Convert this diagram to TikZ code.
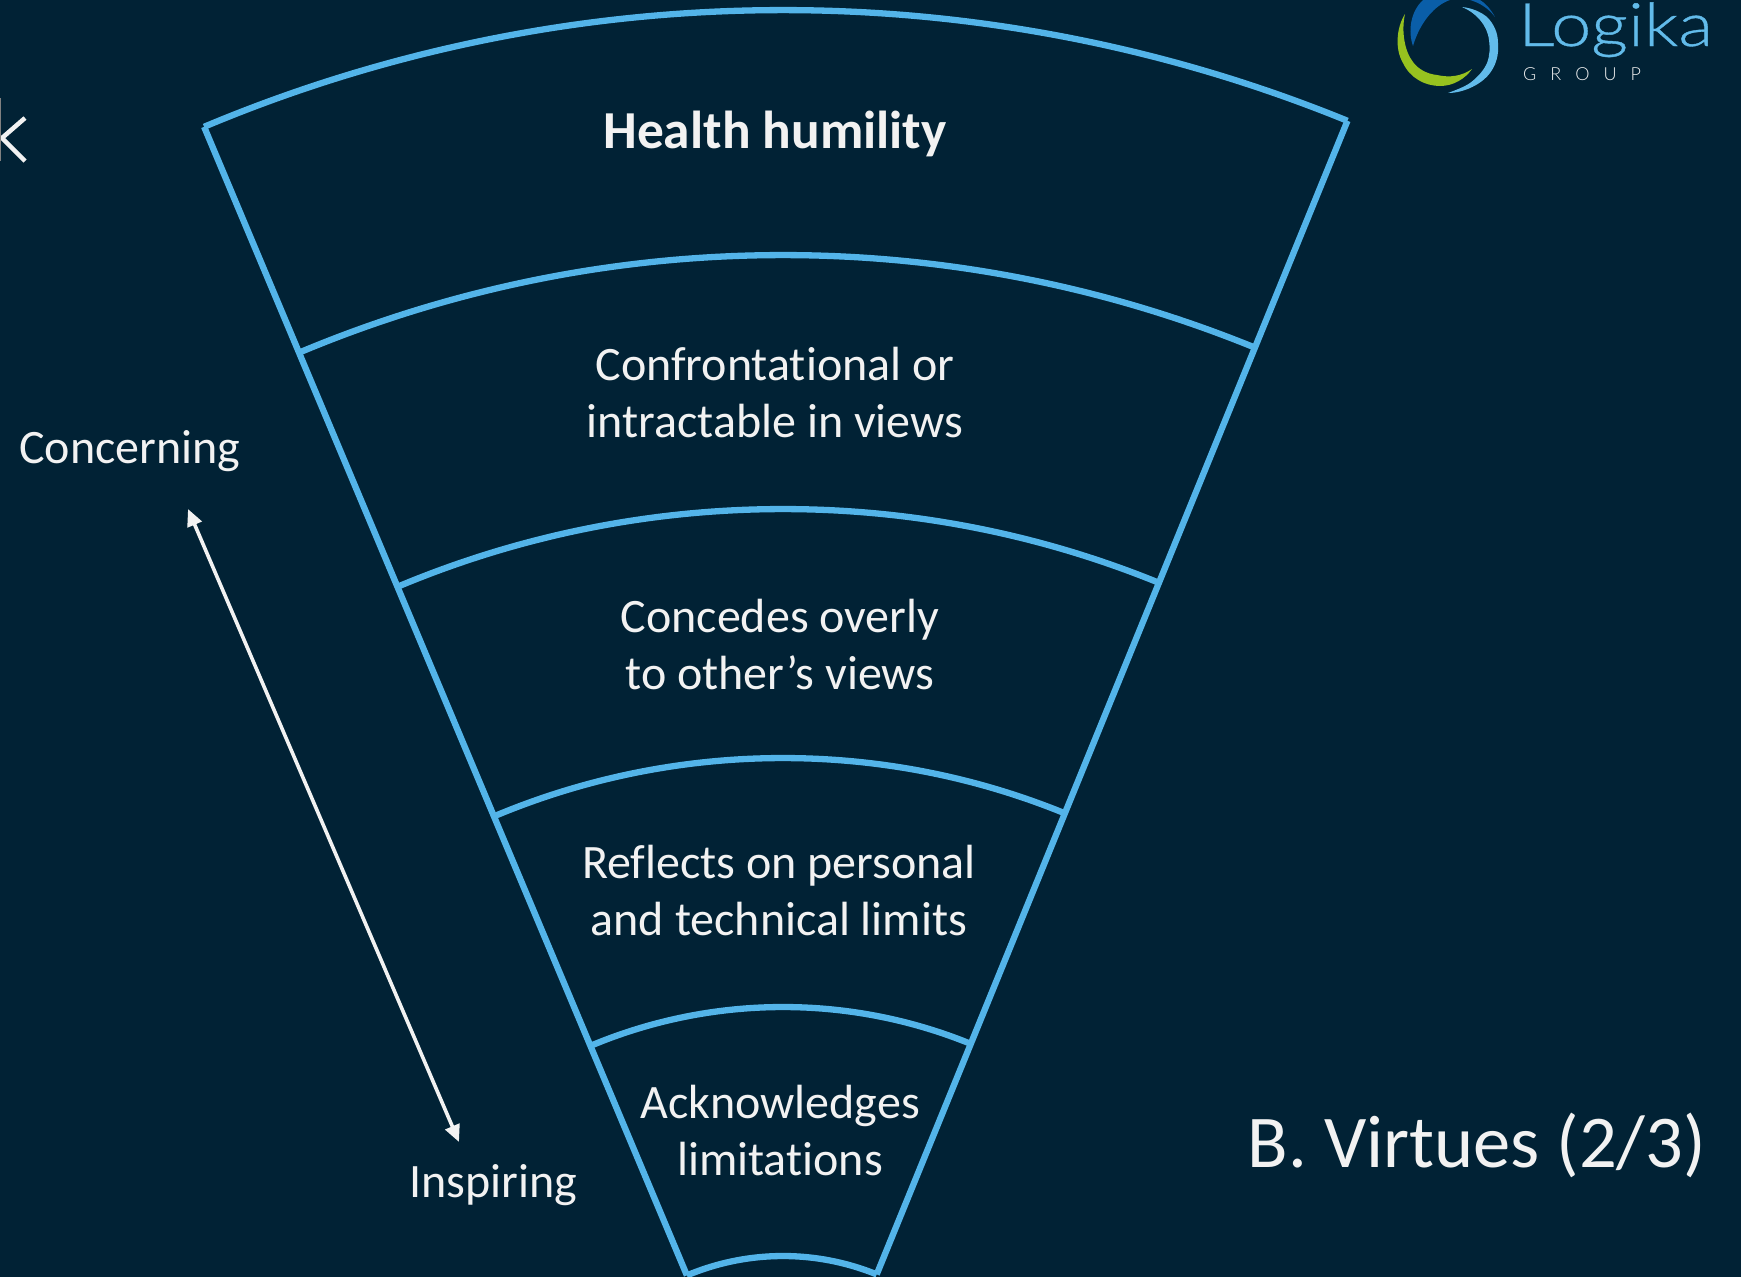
\documentclass[tikz,border=0pt]{standalone}
\usepackage{fontspec}
\setmainfont{Carlito}[Ligatures=NoCommon]
\newfontfamily\logofont{Lato Light}[FakeStretch=1.2,FakeBold=0.6]
\newfontfamily\groupfont{Lato Light}
\definecolor{bgnavy}{HTML}{012235}
\definecolor{fanblue}{HTML}{53B4E9}
\definecolor{soft}{HTML}{F2F2F2}
\definecolor{logoblue}{HTML}{62BBEA}
\definecolor{logodark}{HTML}{0A5EA8}
\definecolor{logogreen}{HTML}{97C21F}
\usetikzlibrary{arrows.meta}
\tikzset{
  fan/.style={draw=fanblue,line width=6.3pt,line join=miter},
  label/.style={text=soft,inner sep=0pt,align=center,font=\fontsize{48}{57}\selectfont},
  updown/.style={draw=soft,line width=3.6pt,{Triangle[length=17pt,width=15pt]}-{Triangle[length=17pt,width=15pt]}},
}
\begin{document}
\begin{tikzpicture}[x=1pt,y=1pt]
\path[use as bounding box,fill=bgnavy] (0,0) rectangle (1741,-1277);
\begin{scope}
\clip (0,0) rectangle (1741,-1277);
\coordinate (apex) at (783,-1504);
\path (apex) ++(112.8:1494pt) coordinate (tl) (apex) ++(67.8:1494pt) coordinate (tr);
\path (apex) ++(112.8:248pt) coordinate (bl) (apex) ++(67.8:248pt) coordinate (br);
\draw[fan] (tl) -- (bl);
\draw[fan] (tr) -- (br);
\foreach \r in {1494,1249,995,746,497,248}{
  \draw[fan] (apex) ++(112.8:\r pt) arc[start angle=112.8,end angle=67.8,radius=\r pt];
}
% logo
\fill[logogreen] (1405,-14) .. controls (1396,-28) and (1395,-50) .. (1403,-63)
  .. controls (1410,-78) and (1425,-86) .. (1440,-86)
  .. controls (1453,-86) and (1465,-79) .. (1472,-69)
  .. controls (1462,-76) and (1450,-78) .. (1437,-75)
  .. controls (1427,-74) and (1418,-69) .. (1413,-62)
  .. controls (1405,-52) and (1401,-32) .. (1405,-14) -- cycle;
\fill[logodark] (1413,-46) .. controls (1408,-32) and (1410,-12) .. (1423,0)
  -- (1450,0) .. controls (1435,-5) and (1420,-22) .. (1413,-46) -- cycle;
\fill[logodark] (1470,0) .. controls (1480,-3) and (1488,-8) .. (1495,-17)
  .. controls (1490,-8) and (1485,-3) .. (1480,0) -- cycle;
\fill[logoblue] (1462,-7) .. controls (1472,-8) and (1481,-12) .. (1487,-17)
  .. controls (1494,-24) and (1498,-33) .. (1498,-43)
  .. controls (1499,-55) and (1496,-65) .. (1490,-73)
  .. controls (1483,-83) and (1465,-93) .. (1448,-93)
  .. controls (1456,-90) and (1464,-87) .. (1470,-83)
  .. controls (1478,-77) and (1484,-70) .. (1487,-63)
  .. controls (1490,-55) and (1490,-48) .. (1489,-40)
  .. controls (1488,-32) and (1485,-26) .. (1480,-20)
  .. controls (1475,-14) and (1469,-10) .. (1462,-7) -- cycle;
\node[anchor=base west,inner sep=0pt,text=logoblue] (logoword) at (1518,-46) {\logofont\fontsize{60}{60}\selectfont Logika};
\node[anchor=base west,inner sep=0pt,text=soft] (logogroup) at (1523,-80) {\groupfont\fontsize{18}{18}\selectfont G\hspace{14pt}R\hspace{14pt}O\hspace{14pt}U\hspace{14pt}P};
\end{scope}
% back chevron
\coordinate (chevtop) at (25,-118);
\coordinate (chevtip) at (2,-138);
\coordinate (chevbot) at (25,-161);
\draw[soft,line width=4.5pt,miter limit=10] (chevtop) -- (chevtip) -- (chevbot);
\draw[gray,line width=1.5pt] (0,-98) -- (0,-161);
% scale arrow
\coordinate (uptip) at (188,-509);
\coordinate (downtip) at (459,-1142);
\draw[updown] (uptip) -- (downtip);
% labels
\node[label,font=\fontsize{53.4}{57}\selectfont\bfseries] (t1) at (775,-134) {Health humility};
\node[label] (t2) at (775,-393) {Confrontational or\\intractable in views};
\node[label] (t3) at (780,-645) {Concedes overly\\to other’s views};
\node[label] (t4) at (779,-891) {Reflects on personal\\and technical limits};
\node[label] (t5) at (780,-1130) {Acknowledges\\limitations};
\node[label,anchor=west] (concern) at (19,-451) {Concerning};
\node[label] (inspire) at (493,-1185) {Inspiring};
\node[label,font=\fontsize{74.5}{80}\selectfont] (section) at (1477,-1145) {B. Virtues (2/3)};
\end{tikzpicture}
\end{document}
